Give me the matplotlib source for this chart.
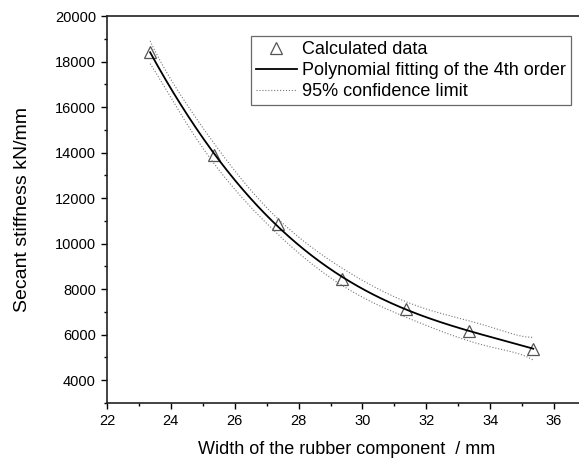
import numpy as np
import matplotlib.pyplot as plt
from matplotlib.ticker import MultipleLocator

plt.rcParams['font.family'] = ['Liberation Sans', 'DejaVu Sans']

# values
width_mm = [23.35, 25.35, 27.35, 29.35, 31.35, 33.35, 35.35]
stiffness = [18420, 13900, 10870, 8460, 7140, 6170, 5380]
t_95 = 4.303  # Student t, 2 degrees of freedom

x = np.array(width_mm)
y = np.array(stiffness)

# 4th order polynomial fit and its 95% confidence band
coef = np.polyfit(x, y, 4)
X = np.vander(x, 5)
resid = y - X @ coef
dof = len(x) - 5
s2 = (resid ** 2).sum() / dof
cov = s2 * np.linalg.inv(X.T @ X)

xf = np.linspace(x.min(), x.max(), 200)
Xf = np.vander(xf, 5)
yf = Xf @ coef
se = np.sqrt(np.einsum('ij,jk,ik->i', Xf, cov, Xf))
lo = yf - t_95 * se
hi = yf + t_95 * se

fig = plt.figure(figsize=(5.79, 4.63), dpi=100)
ax = fig.add_axes([107 / 579, 1 - 403 / 463, 479 / 579, 387 / 463])

ax.plot(x, y, linestyle='none', marker='^', markersize=9, markerfacecolor='none',
        markeredgecolor='#555555', markeredgewidth=0.9, label='Calculated data')
ax.plot(xf, yf, color='black', linewidth=1.3, label='Polynomial fitting of the 4th order')
ax.plot(xf, lo, color='#777777', linestyle=':', linewidth=0.8, label='95% confidence limit')
ax.plot(xf, hi, color='#777777', linestyle=':', linewidth=0.8)

ax.set_xlim(22, 37)
ax.set_ylim(3000, 20000)
ax.xaxis.set_major_locator(MultipleLocator(2))
ax.xaxis.set_minor_locator(MultipleLocator(1))
ax.yaxis.set_major_locator(MultipleLocator(2000))
ax.yaxis.set_minor_locator(MultipleLocator(1000))
ax.tick_params(which='both', direction='out', top=False, right=False, labelsize=10.5, width=1)
ax.tick_params(which='major', length=4, pad=4)
ax.tick_params(which='minor', length=2.5)
for sp in ax.spines.values():
    sp.set_linewidth(1.2)
    sp.set_color('#222222')

ax.set_xlabel('Width of the rubber component  / mm', fontsize=13, labelpad=9)
ax.set_ylabel('Secant stiffness kN/mm', fontsize=14, labelpad=17)

leg = ax.legend(loc='upper left', bbox_to_anchor=(251 / 579, 1 - 36 / 463),
                bbox_transform=fig.transFigure, fontsize=13, frameon=True, fancybox=False,
                borderpad=0.28, labelspacing=0.22, handlelength=2.25, handletextpad=0.3,
                borderaxespad=0)
leg.get_frame().set_edgecolor('#444444')
leg.get_frame().set_linewidth(0.9)

fig.savefig('out.png', dpi=100)
